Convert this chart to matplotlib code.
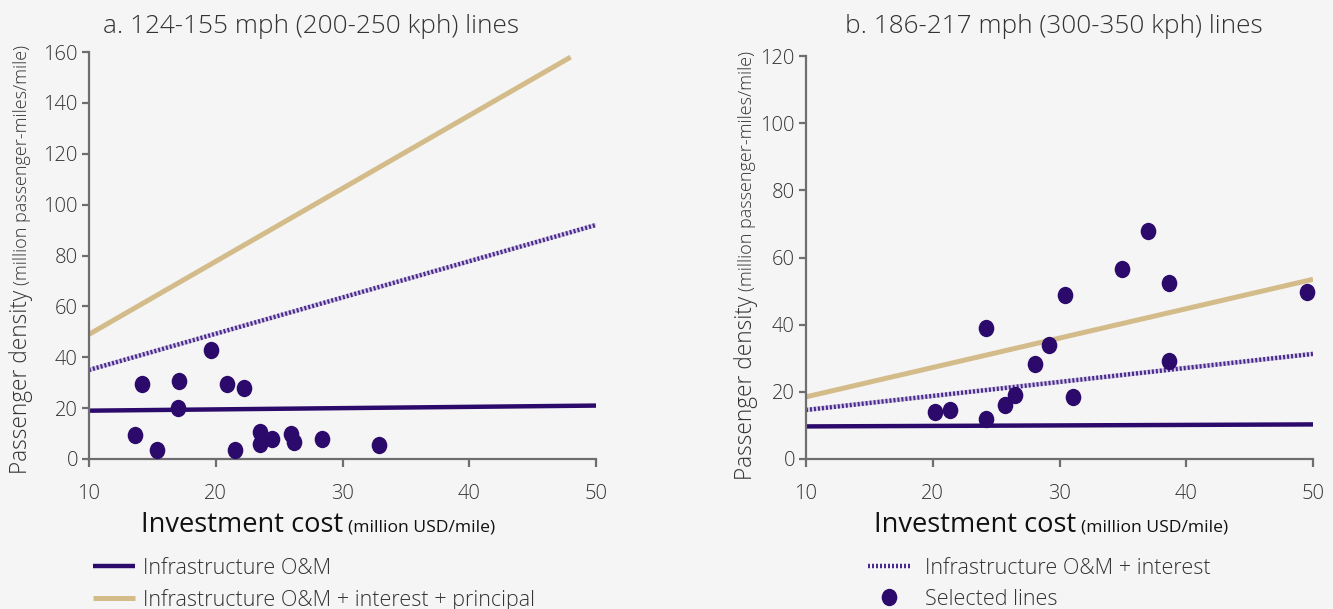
import numpy as np
import matplotlib
matplotlib.use("Agg")
import matplotlib.pyplot as plt
from matplotlib.path import Path
from matplotlib.lines import Line2D
from matplotlib.transforms import IdentityTransform

plt.rcParams['font.family'] = ['Open Sans', 'DejaVu Sans']

# ---------------- data ----------------
titles = ["a. 124-155 mph (200-250 kph) lines", "b. 186-217 mph (300-350 kph) lines"]

# panel a
a_x = [13.6, 15.4, 14.15, 17.1, 17.0, 19.6, 20.9, 22.2, 21.5, 23.5, 23.5, 24.45, 25.9, 26.2, 28.4, 32.9]
a_y = [9.5, 3.7, 29.5, 30.7, 20.0, 43.0, 29.5, 27.8, 3.7, 10.6, 5.8, 7.8, 9.7, 6.6, 7.8, 5.7]
a_om_x, a_om_y = [10, 50], [19.0, 21.0]
a_int_x, a_int_y = [10, 50], [35.0, 92.0]
a_pri_x, a_pri_y = [10, 48], [49.0, 158.0]

# panel b
b_x = [20.2, 21.4, 24.2, 24.2, 25.7, 26.5, 28.05, 29.2, 30.4, 31.1, 34.9, 37.0, 38.65, 38.65, 49.5]
b_y = [14.1, 14.6, 12.0, 39.0, 16.2, 19.0, 28.4, 34.0, 48.7, 18.5, 56.7, 68.0, 52.4, 29.2, 49.7]
b_om_x, b_om_y = [10, 50], [9.7, 10.3]
b_int_x, b_int_y = [10, 50], [14.6, 31.3]
b_pri_x, b_pri_y = [10, 50], [18.5, 53.5]

xticks = [10, 20, 30, 40, 50]
a_yticks = [0, 20, 40, 60, 80, 100, 120, 140, 160]
b_yticks = [0, 20, 40, 60, 80, 100, 120]

leg_labels = ["Infrastructure O&M", "Infrastructure O&M + interest + principal",
              "Infrastructure O&M + interest", "Selected lines"]

# ---------------- style ----------------
BG = "#f5f5f5"
PURPLE = "#2c0a6b"
TAN = "#d3bc8a"
DOT_DARK = "#4a2a8c"
DOT_LIGHT = "#d5cce6"
SPINE = "#6e6e70"
TXT = "#333333"

W, H = 1333, 609
fig = plt.figure(figsize=(W / 100, H / 100), dpi=100, facecolor=BG)

# elliptical marker (slightly taller than wide)
circ = Path.unit_circle()
ell = Path(circ.vertices * np.array([0.9, 1.0]), circ.codes)
MS = 12.5


def axes_rect(x0, x1, ytop, ybot):
    return [x0 / W, 1 - ybot / H, (x1 - x0) / W, (ybot - ytop) / H]


def draw_interest(ax, x, y):
    ax.plot(x, y, color=DOT_LIGHT, lw=3.2, solid_capstyle='butt', zorder=2)
    ax.plot(x, y, color=DOT_DARK, lw=3.2, linestyle=(0, (0.45, 0.45)),
            dash_capstyle='butt', zorder=2.1)


def setup(ax, ylim, yticks):
    ax.set_facecolor(BG)
    ax.set_xlim(10, 50)
    ax.set_ylim(*ylim)
    ax.set_xticks(xticks)
    ax.set_yticks(yticks)
    for s in ['top', 'right']:
        ax.spines[s].set_visible(False)
    for s in ['left', 'bottom']:
        ax.spines[s].set_color(SPINE)
        ax.spines[s].set_linewidth(1.6)
    ax.tick_params(axis='x', direction='out', length=6, width=1.6, color=SPINE,
                   labelsize=14.5, labelcolor=TXT, pad=12)
    ax.tick_params(axis='y', direction='out', length=5, width=1.6, color=SPINE,
                   labelsize=14.5, labelcolor=TXT, pad=3)
    for lab in ax.get_xticklabels() + ax.get_yticklabels():
        lab.set_fontweight('light')


ax1 = fig.add_axes(axes_rect(89, 596, 52, 459))
ax2 = fig.add_axes(axes_rect(806, 1313, 56, 459))
setup(ax1, (0, 160), a_yticks)
setup(ax2, (0, 120), b_yticks)

for ax in (ax1, ax2):
    for sp in ax.spines.values():
        sp.set_clip_on(False)

# panel a
ax1.plot(a_pri_x, a_pri_y, color=TAN, lw=3.6, solid_capstyle='butt', zorder=2)
draw_interest(ax1, a_int_x, a_int_y)
ax1.plot(a_om_x, a_om_y, color=PURPLE, lw=3.2, solid_capstyle='butt', zorder=2.2)
ax1.plot(a_x, a_y, linestyle='none', marker=ell, markersize=MS, color=PURPLE,
         markeredgewidth=0, zorder=3, clip_on=False)

# panel b
ax2.plot(b_pri_x, b_pri_y, color=TAN, lw=3.6, solid_capstyle='butt', zorder=2)
draw_interest(ax2, b_int_x, b_int_y)
ax2.plot(b_om_x, b_om_y, color=PURPLE, lw=3.2, solid_capstyle='butt', zorder=2.2)
ax2.plot(b_x, b_y, linestyle='none', marker=ell, markersize=MS, color=PURPLE,
         markeredgewidth=0, zorder=3, clip_on=False)

# titles
fig.text(311 / W, 1 - 33 / H, titles[0], ha='center', va='baseline', fontsize=18.8,
         color=TXT, fontweight='light')
fig.text(1054 / W, 1 - 33 / H, titles[1], ha='center', va='baseline', fontsize=18.8,
         color=TXT, fontweight='light')

renderer = fig.canvas.get_renderer()
idt = IdentityTransform()


def hlabel(x0, ybase_img, big, small, bs, ss, gap):
    yb = H - ybase_img
    t1 = fig.text(x0, yb, big, transform=idt, ha='left', va='baseline', fontsize=bs, color='#111111')
    w1 = t1.get_window_extent(renderer).width
    fig.text(x0 + w1 + gap, yb, small, transform=idt, ha='left', va='baseline',
             fontsize=ss, color='#111111')


def vlabel(xbase, ybot_img, big, small, bs, ss, gap):
    y0 = H - ybot_img
    t1 = fig.text(xbase, y0, big, transform=idt, rotation=90, rotation_mode='anchor',
                  ha='left', va='baseline', fontsize=bs, color=TXT, fontweight='light')
    h1 = t1.get_window_extent(renderer).height
    fig.text(xbase, y0 + h1 + gap, small, transform=idt, rotation=90, rotation_mode='anchor',
             ha='left', va='baseline', fontsize=ss, color=TXT, fontweight='light')


hlabel(141, 532, "Investment cost", "(million USD/mile)", 19.6, 12.6, 5)
hlabel(874, 532, "Investment cost", "(million USD/mile)", 19.6, 12.6, 5)
vlabel(27, 474, "Passenger density", "(million passenger-miles/mile)", 16.3, 13, 5)
vlabel(752, 480, "Passenger density", "(million passenger-miles/mile)", 16.3, 13, 5)

# legends
h_om = Line2D([], [], color=PURPLE, lw=3.2, solid_capstyle='butt')
h_pri = Line2D([], [], color=TAN, lw=3.6, solid_capstyle='butt')
h_int = Line2D([], [], color=DOT_DARK, lw=3.2, linestyle=(0, (0.45, 0.45)), dash_capstyle='butt')
h_sel = Line2D([], [], linestyle='none', marker=ell, markersize=MS, color=PURPLE, markeredgewidth=0)

LFS = 15.5
leg1 = fig.legend([h_om, h_pri], leg_labels[:2], loc='upper left',
                  bbox_to_anchor=(93 / W, 1 - 558 / H), frameon=False, borderpad=0,
                  borderaxespad=0, fontsize=LFS, handlelength=1.95, handletextpad=0.35,
                  labelspacing=0.45, labelcolor=TXT)
leg2 = fig.legend([h_int, h_sel], leg_labels[2:], loc='upper left',
                  bbox_to_anchor=(868 / W, 1 - 558 / H), frameon=False, borderpad=0,
                  borderaxespad=0, fontsize=LFS, handlelength=1.95, handletextpad=0.72,
                  labelspacing=0.45, labelcolor=TXT)
for leg in (leg1, leg2):
    for t in leg.get_texts():
        t.set_fontweight('light')

fig.savefig("out.png", dpi=100, facecolor=BG)
